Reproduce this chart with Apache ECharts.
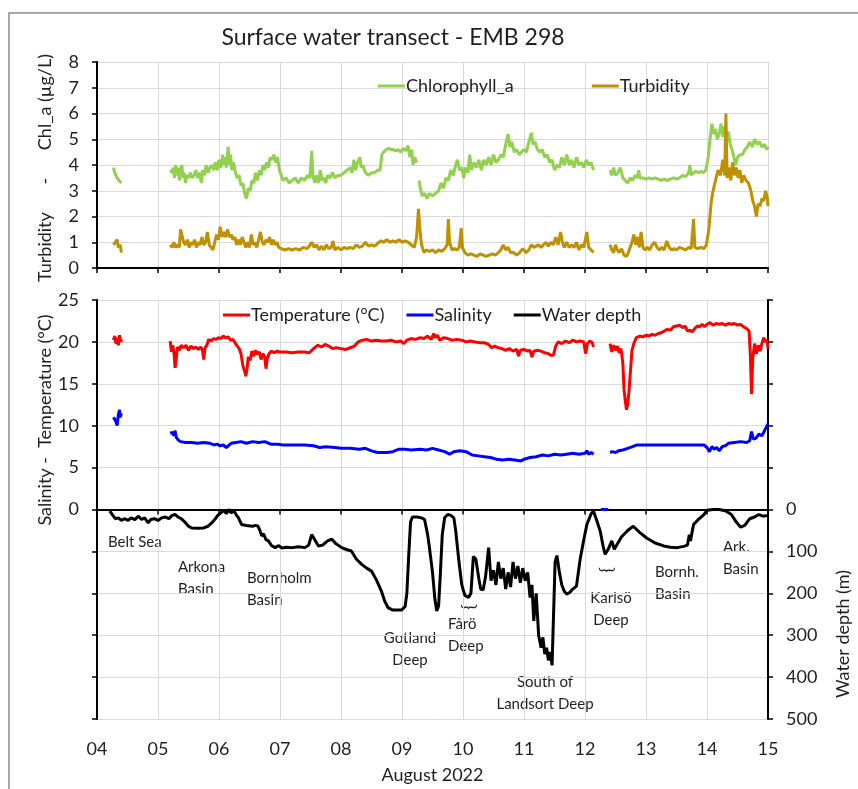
<!DOCTYPE html>
<html>
<head>
<meta charset="utf-8">
<title>Surface water transect - EMB 298</title>
<script src="https://cdn.jsdelivr.net/npm/echarts@6/dist/echarts.min.js"></script>
<style>
  html, body { margin: 0; padding: 0; background: #fff; }
  #chart { width: 858px; height: 789px; }
</style>
</head>
<body>
<div id="chart"></div>
<script>
// days of August 2022 on x, null = gap in the record
const dayTicks = [4, 5, 6, 7, 8, 9, 10, 11, 12, 13, 14, 15];

const chlData = [
  [4.27,3.9],[4.29,3.7],[4.31,3.6],[4.33,3.5],[4.36,3.4],[4.40,3.3],[4.41,null],
  [5.20,3.8],[5.23,3.7],[5.25,3.9],[5.27,3.5],[5.29,4.0],[5.31,3.6],[5.33,3.9],[5.35,3.4],[5.37,3.8],[5.39,4.0],[5.41,3.5],[5.43,3.7],[5.45,3.3],[5.47,3.6],[5.50,3.5],[5.53,3.7],[5.56,3.5],[5.59,3.6],[5.62,3.8],[5.65,3.5],[5.68,3.7],[5.71,3.3],[5.73,3.8],[5.76,3.6],[5.79,4.0],[5.82,3.7],[5.85,3.9],[5.88,4.0],[5.91,3.8],[5.94,4.1],[5.97,3.8],
  [6.00,4.2],[6.03,3.9],[6.06,4.4],[6.08,4.0],[6.10,4.3],[6.12,3.9],[6.15,4.7],[6.17,4.0],[6.19,4.4],[6.21,3.8],[6.24,4.1],[6.27,3.7],[6.30,3.5],[6.33,3.6],[6.36,3.2],[6.39,3.3],[6.42,2.9],[6.45,2.7],[6.48,3.1],[6.51,3.0],[6.54,3.4],[6.57,3.3],[6.60,3.7],[6.63,3.4],[6.66,3.8],[6.69,3.6],[6.72,4.0],[6.75,3.8],[6.78,4.1],[6.81,3.9],[6.84,4.3],[6.87,4.2],[6.90,4.4],[6.93,4.1],[6.96,4.3],[6.99,3.8],
  [7.02,3.6],[7.05,3.4],[7.10,3.5],[7.15,3.3],[7.20,3.4],[7.25,3.5],[7.30,3.3],[7.35,3.5],[7.40,3.4],[7.45,3.6],[7.49,3.5],[7.52,4.55],[7.54,3.6],[7.57,3.3],[7.60,3.6],[7.63,3.3],[7.66,3.8],[7.69,3.4],[7.72,3.5],[7.75,3.3],[7.78,3.6],[7.82,3.5],[7.86,3.7],[7.90,3.5],[7.95,3.6],
  [8.00,3.6],[8.05,3.7],[8.10,3.8],[8.15,3.9],[8.18,3.7],[8.21,4.2],[8.24,3.8],[8.27,4.1],[8.31,4.3],[8.33,3.9],[8.36,4.0],[8.40,3.7],[8.45,3.6],[8.50,3.7],[8.55,3.7],[8.60,3.8],[8.64,3.8],[8.67,4.4],[8.70,4.5],[8.74,4.6],[8.78,4.65],[8.82,4.6],[8.86,4.6],[8.90,4.55],[8.94,4.6],[8.98,4.5],
  [9.02,4.65],[9.06,4.55],[9.10,4.75],[9.13,4.3],[9.16,4.6],[9.18,4.0],[9.21,4.3],[9.24,4.1],[9.26,null],[9.28,3.4],[9.30,3.1],[9.33,2.8],[9.37,2.9],[9.41,2.7],[9.45,2.9],[9.50,2.8],[9.55,2.9],[9.60,3.0],[9.64,3.3],[9.68,3.1],[9.72,3.5],[9.76,3.4],[9.80,3.8],[9.84,3.6],[9.88,4.0],[9.91,4.2],[9.94,3.8],[9.98,3.9],
  [10.01,3.5],[10.04,3.9],[10.08,3.7],[10.11,4.4],[10.14,3.8],[10.18,4.1],[10.22,3.9],[10.26,4.2],[10.30,3.8],[10.34,4.2],[10.38,4.0],[10.42,4.3],[10.46,4.0],[10.50,4.4],[10.54,4.1],[10.58,4.2],[10.62,4.4],[10.66,4.3],[10.70,4.8],[10.74,5.2],[10.77,4.7],[10.80,4.9],[10.84,4.5],[10.88,4.6],[10.92,4.4],[10.96,4.5],
  [11.00,4.6],[11.04,4.5],[11.08,4.9],[11.12,5.25],[11.15,4.8],[11.18,4.9],[11.22,4.6],[11.26,4.5],[11.30,4.6],[11.34,4.3],[11.38,4.4],[11.42,4.1],[11.46,4.2],[11.50,3.8],[11.54,4.0],[11.58,3.9],[11.62,4.3],[11.66,4.0],[11.70,4.4],[11.74,4.0],[11.78,4.2],[11.82,3.9],[11.86,4.3],[11.90,4.0],[11.94,4.1],[11.98,3.9],
  [12.02,4.2],[12.06,4.0],[12.10,4.1],[12.14,3.8],[12.16,null],
  [12.41,3.8],[12.44,3.6],[12.47,3.9],[12.50,3.6],[12.54,3.7],[12.58,3.9],[12.62,3.5],[12.66,3.4],[12.70,3.3],[12.74,3.5],[12.78,3.4],[12.82,3.6],[12.86,3.5],[12.88,3.8],[12.90,3.5],[12.95,3.5],
  [13.00,3.45],[13.05,3.5],[13.10,3.45],[13.15,3.5],[13.20,3.45],[13.25,3.4],[13.30,3.45],[13.35,3.4],[13.40,3.45],[13.45,3.5],[13.50,3.45],[13.55,3.5],[13.60,3.6],[13.65,3.55],[13.70,3.7],[13.72,4.0],[13.74,3.6],[13.78,3.7],[13.82,3.75],[13.86,3.7],[13.90,3.75],[13.94,3.7],[13.98,3.8],
  [14.02,4.3],[14.05,5.0],[14.08,5.6],[14.11,5.2],[14.14,5.4],[14.17,5.0],[14.20,5.2],[14.23,5.6],[14.26,5.1],[14.29,5.5],[14.32,4.9],[14.35,5.3],[14.38,4.8],[14.41,4.6],[14.44,4.3],[14.47,4.0],[14.50,4.3],[14.54,4.4],[14.58,4.4],[14.62,4.6],[14.66,4.7],[14.70,4.9],[14.74,4.7],[14.78,5.0],[14.82,4.8],[14.86,4.9],[14.90,4.7],[14.94,4.8],[14.98,4.6],[15.00,4.7]
];

const turbData = [
  [4.27,0.9],[4.30,0.85],[4.33,1.1],[4.35,0.8],[4.38,0.9],[4.40,0.6],[4.41,null],
  [5.20,0.9],[5.23,0.8],[5.26,1.0],[5.29,0.8],[5.32,0.9],[5.35,0.8],[5.37,1.5],[5.39,1.3],[5.42,1.0],[5.45,0.9],[5.48,1.1],[5.51,0.8],[5.54,1.0],[5.57,0.9],[5.60,1.1],[5.63,0.8],[5.66,1.0],[5.69,0.9],[5.72,1.2],[5.75,0.9],[5.78,1.0],[5.81,1.4],[5.84,0.9],[5.87,0.8],[5.90,0.7],[5.93,1.0],[5.96,1.3],[5.99,1.1],
  [6.02,1.6],[6.05,1.2],[6.08,1.4],[6.11,1.2],[6.14,1.5],[6.17,1.2],[6.20,1.3],[6.23,1.1],[6.26,1.2],[6.29,0.9],[6.32,1.1],[6.35,0.9],[6.38,1.2],[6.41,1.0],[6.44,0.8],[6.47,1.0],[6.50,0.8],[6.53,1.3],[6.56,0.9],[6.59,1.0],[6.62,0.8],[6.65,1.1],[6.68,1.4],[6.71,1.0],[6.74,0.9],[6.77,1.1],[6.80,1.0],[6.83,1.2],[6.86,0.9],[6.89,1.1],[6.92,0.9],[6.95,1.0],[6.98,0.8],
  [7.02,0.75],[7.08,0.7],[7.14,0.75],[7.20,0.7],[7.26,0.75],[7.32,0.7],[7.38,0.8],[7.44,0.75],[7.48,0.85],[7.52,1.0],[7.56,0.8],[7.60,0.9],[7.64,0.7],[7.68,0.85],[7.72,0.7],[7.76,0.9],[7.80,0.75],[7.84,0.8],[7.87,1.05],[7.90,0.7],[7.95,0.8],
  [8.00,0.7],[8.05,0.8],[8.10,0.75],[8.15,0.8],[8.20,0.75],[8.25,0.9],[8.30,0.8],[8.35,0.85],[8.40,1.0],[8.45,0.85],[8.50,0.9],[8.55,0.85],[8.60,0.95],[8.65,1.05],[8.70,1.0],[8.75,1.1],[8.80,1.0],[8.85,1.05],[8.90,1.0],[8.95,1.1],
  [9.00,1.0],[9.05,1.05],[9.10,1.0],[9.15,0.9],[9.20,0.8],[9.24,1.2],[9.27,2.3],[9.29,1.6],[9.32,0.9],[9.36,0.6],[9.40,0.7],[9.45,0.65],[9.50,0.7],[9.55,0.6],[9.60,0.7],[9.65,0.65],[9.70,0.75],[9.74,0.9],[9.76,1.9],[9.78,1.0],[9.82,0.7],[9.86,0.75],[9.90,0.7],[9.94,0.8],[9.97,1.55],[9.99,0.8],
  [10.03,0.6],[10.08,0.5],[10.13,0.55],[10.18,0.5],[10.23,0.45],[10.28,0.55],[10.33,0.5],[10.38,0.45],[10.43,0.5],[10.48,0.55],[10.53,0.5],[10.58,0.6],[10.62,0.7],[10.66,0.9],[10.70,0.7],[10.74,0.8],[10.78,0.6],[10.83,0.6],[10.88,0.5],[10.93,0.6],[10.98,0.75],
  [11.03,0.6],[11.08,0.7],[11.12,0.9],[11.16,0.8],[11.20,0.85],[11.24,0.9],[11.28,0.8],[11.32,0.9],[11.36,1.0],[11.40,0.85],[11.44,1.0],[11.48,0.9],[11.52,1.2],[11.56,0.9],[11.60,1.4],[11.63,1.0],[11.66,0.8],[11.70,1.0],[11.74,0.8],[11.78,0.9],[11.82,0.8],[11.86,1.0],[11.90,0.7],[11.94,0.9],[11.98,0.8],
  [12.03,1.4],[12.06,0.8],[12.10,0.7],[12.14,0.6],[12.16,null],
  [12.41,0.9],[12.44,0.7],[12.47,0.6],[12.50,0.9],[12.53,0.7],[12.56,0.6],[12.60,0.75],[12.64,0.5],[12.68,0.45],[12.71,0.6],[12.74,0.8],[12.77,1.0],[12.80,1.3],[12.83,0.9],[12.86,1.2],[12.89,0.8],[12.92,1.4],[12.95,0.8],[12.98,0.7],
  [13.02,0.8],[13.06,0.7],[13.10,0.9],[13.14,1.0],[13.18,0.8],[13.22,0.7],[13.26,0.8],[13.30,0.7],[13.34,1.05],[13.38,0.8],[13.42,0.7],[13.46,0.75],[13.50,0.7],[13.55,0.8],[13.60,0.75],[13.65,0.7],[13.70,0.8],[13.74,0.75],[13.78,1.9],[13.80,0.8],[13.85,0.75],[13.90,0.8],[13.95,0.75],[13.99,0.9],
  [14.03,1.5],[14.07,2.6],[14.10,3.0],[14.14,3.4],[14.18,3.8],[14.22,3.6],[14.26,4.2],[14.29,3.6],[14.31,6.0],[14.33,3.5],[14.36,3.9],[14.39,3.4],[14.42,4.1],[14.45,3.6],[14.48,3.9],[14.51,3.5],[14.54,3.8],[14.57,3.3],[14.60,3.6],[14.64,3.4],[14.68,3.3],[14.72,3.0],[14.75,2.6],[14.78,2.4],[14.81,2.0],[14.84,2.5],[14.87,2.4],[14.90,2.7],[14.93,2.6],[14.96,3.0],[14.99,2.7],[15.00,2.4]
];

const tempData = [
  [4.27,20.2],[4.29,20.7],[4.31,19.8],[4.33,20.5],[4.35,19.6],[4.37,20.8],[4.39,20.0],[4.40,20.3],[4.41,null],
  [5.20,20.1],[5.22,18.8],[5.24,19.6],[5.26,18.9],[5.28,16.9],[5.30,18.0],[5.32,19.4],[5.35,19.0],[5.38,19.6],[5.42,19.3],[5.46,19.6],[5.50,19.0],[5.54,19.5],[5.58,19.2],[5.62,19.4],[5.66,19.1],[5.70,19.4],[5.73,19.0],[5.75,17.9],[5.77,19.3],[5.80,19.6],[5.83,20.3],[5.87,20.1],[5.91,20.4],[5.95,20.3],[5.99,20.5],
  [6.03,20.4],[6.07,20.7],[6.11,20.5],[6.15,20.6],[6.19,20.2],[6.23,20.3],[6.27,19.8],[6.30,20.0],[6.33,19.2],[6.36,18.6],[6.39,17.2],[6.42,16.5],[6.44,15.9],[6.46,16.8],[6.48,18.2],[6.51,17.8],[6.54,18.9],[6.57,18.3],[6.60,19.0],[6.63,18.5],[6.66,18.8],[6.69,17.9],[6.72,18.6],[6.75,18.2],[6.77,16.8],[6.79,18.0],[6.82,18.6],[6.86,18.9],[6.90,18.7],[6.95,18.9],
  [7.00,18.8],[7.10,18.8],[7.20,18.7],[7.30,18.8],[7.40,18.8],[7.48,18.7],[7.55,19.2],[7.62,19.6],[7.68,19.4],[7.74,19.7],[7.80,19.5],[7.86,19.2],[7.92,19.3],
  [8.00,19.2],[8.08,19.1],[8.15,19.3],[8.22,19.5],[8.28,20.0],[8.35,20.2],[8.42,20.3],[8.50,20.1],[8.58,20.2],[8.66,20.1],[8.74,20.1],[8.82,20.2],[8.90,20.0],[8.98,20.1],
  [9.03,19.8],[9.08,20.2],[9.15,20.4],[9.22,20.3],[9.30,20.5],[9.36,20.4],[9.42,20.7],[9.48,20.3],[9.52,21.0],[9.55,20.5],[9.58,20.8],[9.62,20.2],[9.68,20.5],[9.75,20.4],[9.82,20.2],[9.90,20.3],[9.98,20.2],
  [10.05,20.0],[10.12,20.1],[10.20,20.0],[10.28,19.9],[10.35,19.9],[10.42,19.7],[10.47,19.3],[10.52,19.5],[10.58,19.3],[10.64,19.2],[10.70,19.0],[10.76,19.2],[10.82,18.9],[10.88,19.1],[10.91,18.3],[10.94,19.0],
  [11.00,19.1],[11.06,18.9],[11.10,19.0],[11.13,18.2],[11.16,18.9],[11.22,19.0],[11.28,18.9],[11.34,18.7],[11.40,18.6],[11.44,18.4],[11.48,18.4],[11.52,19.5],[11.56,20.0],[11.62,19.8],[11.68,20.1],[11.74,19.9],[11.80,20.2],[11.86,20.0],[11.92,20.1],[11.98,20.0],
  [12.01,18.6],[12.04,19.8],[12.08,20.1],[12.12,19.9],[12.14,19.4],[12.16,null],
  [12.41,19.8],[12.44,18.8],[12.47,19.6],[12.50,19.0],[12.53,19.5],[12.56,18.7],[12.59,19.2],[12.62,17.5],[12.64,14.3],[12.66,13.0],[12.68,11.9],[12.70,12.6],[12.72,14.0],[12.74,16.0],[12.77,19.0],[12.80,19.8],[12.84,20.5],[12.90,20.7],[12.95,20.6],
  [13.00,20.8],[13.05,20.7],[13.10,20.9],[13.15,20.8],[13.20,21.0],[13.25,21.1],[13.30,21.3],[13.35,21.5],[13.40,21.4],[13.45,21.8],[13.50,21.9],[13.55,22.0],[13.60,21.7],[13.64,21.9],[13.68,21.3],[13.72,21.4],[13.76,21.2],[13.80,21.6],[13.84,21.9],[13.88,21.8],[13.92,22.1],[13.96,21.8],
  [14.00,22.1],[14.05,22.3],[14.10,22.0],[14.15,22.2],[14.20,22.1],[14.25,22.2],[14.30,22.0],[14.35,22.2],[14.40,22.1],[14.45,22.2],[14.50,22.0],[14.55,22.1],[14.60,21.8],[14.65,21.6],[14.69,21.3],[14.71,18.5],[14.73,13.8],[14.75,18.0],[14.78,19.8],[14.81,18.6],[14.84,19.6],[14.87,18.9],[14.90,19.8],[14.93,20.5],[14.96,20.0],[14.98,20.3],[15.00,19.2]
];

const salData = [
  [4.27,11.0],[4.29,11.2],[4.31,10.5],[4.33,10.0],[4.35,11.3],[4.37,11.9],[4.38,11.0],[4.40,11.5],[4.41,null],
  [5.20,9.1],[5.22,8.9],[5.24,9.2],[5.26,8.8],[5.28,9.4],[5.30,8.6],[5.33,8.3],[5.37,8.1],[5.45,8.0],[5.55,8.0],[5.65,7.9],[5.75,8.0],[5.85,7.9],[5.92,7.7],[5.97,7.8],
  [6.02,7.6],[6.07,7.7],[6.12,7.4],[6.15,7.5],[6.20,7.9],[6.28,8.0],[6.36,8.1],[6.45,7.9],[6.55,8.1],[6.65,8.0],[6.75,8.1],[6.85,7.8],[6.95,7.8],
  [7.05,7.7],[7.20,7.7],[7.40,7.7],[7.55,7.6],[7.65,7.4],[7.75,7.5],[7.90,7.4],[8.00,7.3],[8.15,7.3],[8.30,7.2],[8.40,7.3],[8.50,7.0],[8.60,6.8],[8.75,6.8],[8.85,6.9],[8.95,7.2],
  [9.05,7.2],[9.15,7.1],[9.30,7.2],[9.40,7.1],[9.50,7.3],[9.60,7.1],[9.70,6.9],[9.78,6.6],[9.85,6.9],[9.95,7.0],
  [10.05,6.9],[10.15,6.5],[10.25,6.4],[10.35,6.3],[10.45,6.2],[10.55,6.0],[10.65,5.9],[10.75,6.0],[10.85,5.9],[10.95,5.8],
  [11.00,6.0],[11.10,6.2],[11.20,6.3],[11.30,6.5],[11.40,6.4],[11.50,6.6],[11.60,6.5],[11.70,6.6],[11.80,6.7],[11.90,6.6],
  [12.00,6.7],[12.03,7.0],[12.06,6.6],[12.10,6.8],[12.14,6.6],[12.16,null],
  [12.26,0],[12.38,0],[12.39,null],
  [12.41,6.8],[12.45,6.9],[12.50,6.8],[12.55,7.0],[12.62,7.1],[12.70,7.3],[12.78,7.5],[12.85,7.7],
  [13.00,7.7],[13.20,7.7],[13.40,7.7],[13.60,7.7],[13.80,7.7],[13.95,7.7],
  [14.00,7.4],[14.04,6.9],[14.08,7.5],[14.12,7.2],[14.16,7.4],[14.20,7.0],[14.25,7.5],[14.30,7.6],[14.35,7.9],[14.45,8.0],[14.55,8.1],[14.65,8.0],[14.70,8.2],[14.73,9.3],[14.76,8.4],[14.80,8.5],[14.85,9.0],[14.90,8.8],[14.95,9.5],[15.00,10.2]
];

const depthData = [
  [4.21,4],[4.26,14],[4.30,22],[4.35,20],[4.40,26],[4.45,22],[4.51,26],[4.56,20],[4.62,24],[4.68,16],[4.73,24],[4.78,20],[4.84,32],[4.88,24],[4.94,22],
  [5.00,26],[5.06,20],[5.12,18],[5.18,22],[5.23,14],[5.28,12],[5.33,18],[5.38,22],[5.44,30],[5.50,40],[5.55,44],[5.65,45],[5.75,44],[5.82,40],[5.88,32],[5.93,24],[5.98,14],
  [6.03,8],[6.08,2],[6.12,10],[6.16,0],[6.20,8],[6.24,2],[6.28,12],[6.32,20],[6.37,36],[6.45,38],[6.55,40],[6.60,38],[6.64,40],[6.67,50],[6.70,63],[6.73,58],[6.77,72],[6.81,75],[6.86,86],[6.92,91],[6.98,86],
  [7.03,92],[7.10,90],[7.20,91],[7.30,89],[7.41,91],[7.47,85],[7.52,60],[7.57,72],[7.63,87],[7.70,85],[7.78,75],[7.85,71],[7.92,82],
  [8.01,91],[8.10,96],[8.17,99],[8.25,118],[8.34,131],[8.42,140],[8.50,147],[8.58,168],[8.66,194],[8.72,220],[8.77,234],[8.85,240],[8.93,240],[8.99,240],
  [9.05,232],[9.08,200],[9.11,110],[9.14,30],[9.17,18],[9.25,18],[9.32,20],[9.37,24],[9.42,60],[9.45,91],[9.50,150],[9.54,215],[9.57,242],[9.60,230],[9.63,150],[9.66,60],[9.70,19],[9.75,12],[9.80,14],[9.85,20],[9.88,50],[9.93,120],[9.98,180],
  [10.03,205],[10.09,210],[10.13,200],[10.17,112],[10.21,118],[10.26,165],[10.29,190],[10.33,192],[10.37,160],[10.42,91],[10.46,170],[10.50,145],[10.54,180],[10.58,125],[10.62,165],[10.66,140],[10.70,190],[10.74,150],[10.78,185],[10.82,125],[10.86,165],[10.90,135],[10.94,175],[10.98,140],
  [11.02,170],[11.06,150],[11.10,210],[11.13,180],[11.16,266],[11.20,200],[11.24,300],[11.28,330],[11.31,305],[11.34,345],[11.37,330],[11.40,360],[11.43,340],[11.46,372],[11.49,375],[11.51,125],[11.54,110],[11.58,150],[11.62,180],[11.66,195],[11.70,202],[11.75,198],[11.80,190],[11.86,183],[11.92,119],[11.97,80],
  [12.03,36],[12.10,10],[12.14,4],[12.19,25],[12.25,52],[12.30,90],[12.33,107],[12.38,95],[12.44,75],[12.48,95],[12.52,85],[12.60,65],[12.70,50],[12.79,40],[12.90,55],
  [13.01,68],[13.15,80],[13.29,87],[13.40,90],[13.51,91],[13.62,88],[13.68,85],[13.71,60],[13.73,75],[13.76,50],[13.78,36],[13.85,25],[13.95,12],
  [14.00,2],[14.10,0],[14.20,0],[14.30,3],[14.40,12],[14.48,30],[14.55,42],[14.62,38],[14.70,22],[14.78,18],[14.85,12],[14.92,16],[15.00,14]
];

// region names under the depth curve
const regionLabels = [
  { text: 'Belt Sea', x: 108, y: 542, align: 'left' },
  { text: 'Arkona\nBasin', x: 178, y: 578, align: 'left' },
  { text: 'Bornholm\nBasin', x: 247, y: 589, align: 'left' },
  { text: 'Gotland\nDeep', x: 410, y: 649, align: 'center' },
  { text: 'Fårö\nDeep', x: 448, y: 635, align: 'left' },
  { text: 'South of\nLandsort Deep', x: 545, y: 693, align: 'center' },
  { text: 'Karlsö\nDeep', x: 611, y: 609, align: 'center' },
  { text: 'Bornh.\nBasin', x: 655, y: 583, align: 'left' },
  { text: 'Ark.\nBasin', x: 723, y: 558, align: 'left' }
];
const braces = [[469, 607], [607, 570]];

const font = 'Lato';
const txt = '#1f1f1f';
const gridColor = '#d9d9d9';
const dayLabel = v => (v < 10 ? '0' : '') + v;

const chart = echarts.init(document.getElementById('chart'));

const axisLine = { lineStyle: { color: '#000', width: 2 } };
const axisTick = { inside: false, length: 5, lineStyle: { color: '#000', width: 1.5 } };
const split = { show: true, lineStyle: { color: gridColor, width: 1 } };

const graphics = [
  { type: 'rect', shape: { x: 9, y: 13, width: 900, height: 900 }, style: { fill: 'none', stroke: '#8c8c8c', lineWidth: 1.5 }, silent: true },
  { type: 'text', x: 393, y: 38, style: { text: 'Surface water transect - EMB 298', font: '23px ' + font, fill: txt, align: 'center', verticalAlign: 'middle' } },
  { type: 'text', x: 45, y: 168, rotation: Math.PI / 2, style: { text: 'Turbidity      -      Chl_a (µg/L)', font: '18px ' + font, fill: txt, align: 'center', verticalAlign: 'middle' } },
  { type: 'text', x: 45, y: 420, rotation: Math.PI / 2, style: { text: 'Salinity -  Temperature (°C)', font: '18px ' + font, fill: txt, align: 'center', verticalAlign: 'middle' } },
  { type: 'text', x: 843, y: 634, rotation: Math.PI / 2, style: { text: 'Water depth (m)', font: '18px ' + font, fill: txt, align: 'center', verticalAlign: 'middle' } }
];
regionLabels.forEach(l => {
  graphics.push({ type: 'text', x: l.x, y: l.y, style: { text: l.text, font: '15px ' + font, fill: txt, align: l.align, verticalAlign: 'middle', lineHeight: 22 } });
});
braces.forEach(b => {
  graphics.push({ type: 'text', x: b[0], y: b[1], rotation: -Math.PI / 2, style: { text: '}', font: '18px ' + font, fill: txt, align: 'center', verticalAlign: 'middle' } });
});

const line = (name, data, color, xi, yi) => ({
  name: name, type: 'line', data: data, xAxisIndex: xi, yAxisIndex: yi,
  showSymbol: false, connectNulls: false, animation: false,
  lineStyle: { color: color, width: 3 }, itemStyle: { color: color }
});

chart.setOption({
  textStyle: { fontFamily: font },
  animation: false,
  grid: [
    { left: 97, top: 62, width: 671, height: 206 },
    { left: 97, top: 300, width: 671, height: 419 }
  ],
  legend: [
    { left: 373, top: 72, icon: 'rect', itemWidth: 27, itemHeight: 3, itemGap: 78,
      textStyle: { fontSize: 18, color: txt, padding: [0, 0, 0, -4] }, data: ['Chlorophyll_a', 'Turbidity'] },
    { left: 218, top: 301, icon: 'rect', itemWidth: 27, itemHeight: 3, itemGap: 22,
      textStyle: { fontSize: 18, color: txt, padding: [0, 0, 0, -4] }, data: ['Temperature (°C)', 'Salinity', 'Water depth'] }
  ],
  xAxis: [
    { gridIndex: 0, type: 'value', min: 4, max: 15, interval: 1, axisLine: axisLine, axisTick: axisTick, axisLabel: { show: false }, splitLine: split },
    { gridIndex: 1, type: 'value', min: 4, max: 15, interval: 1, axisLine: { onZero: true, onZeroAxisIndex: 1, lineStyle: { color: '#000', width: 2 } }, axisTick: axisTick, axisLabel: { show: false }, splitLine: split },
    { gridIndex: 1, type: 'value', min: 4, max: 15, interval: 1, position: 'bottom',
      axisLine: { show: false, onZero: false }, axisTick: { show: false }, splitLine: { show: false },
      axisLabel: { fontSize: 18, color: txt, margin: 21, formatter: dayLabel },
      name: 'August 2022', nameLocation: 'middle', nameGap: 47, nameTextStyle: { fontSize: 18, color: txt } }
  ],
  yAxis: [
    { gridIndex: 0, type: 'value', min: 0, max: 8, interval: 1, axisLine: { show: true, lineStyle: { color: '#000', width: 2 } }, axisTick: { show: true, ...axisTick },
      axisLabel: { fontSize: 18, color: txt, margin: 18 }, splitLine: split },
    { gridIndex: 1, type: 'value', min: -25, max: 25, interval: 5, axisLine: { show: true, onZero: false, lineStyle: { color: '#000', width: 2 } }, axisTick: { show: true, ...axisTick },
      axisLabel: { fontSize: 18, color: txt, margin: 18, formatter: v => (v >= 0 ? v : '') }, splitLine: split },
    { gridIndex: 1, type: 'value', position: 'right', min: -500, max: 500, interval: 100, inverse: true,
      axisLine: { show: true, onZero: false, lineStyle: { color: '#000', width: 2 } }, axisTick: { show: true, ...axisTick },
      axisLabel: { fontSize: 18, color: txt, margin: 18, formatter: v => (v >= 0 ? v : '') }, splitLine: { show: false } }
  ],
  series: [
    line('Chlorophyll_a', chlData, '#92d050', 0, 0),
    line('Turbidity', turbData, '#bf9000', 0, 0),
    line('Water depth', depthData, '#000000', 1, 2),
    line('Temperature (°C)', tempData, '#ff0000', 1, 1),
    line('Salinity', salData, '#0000ff', 1, 1)
  ],
  graphic: graphics
});
</script>
</body>
</html>
